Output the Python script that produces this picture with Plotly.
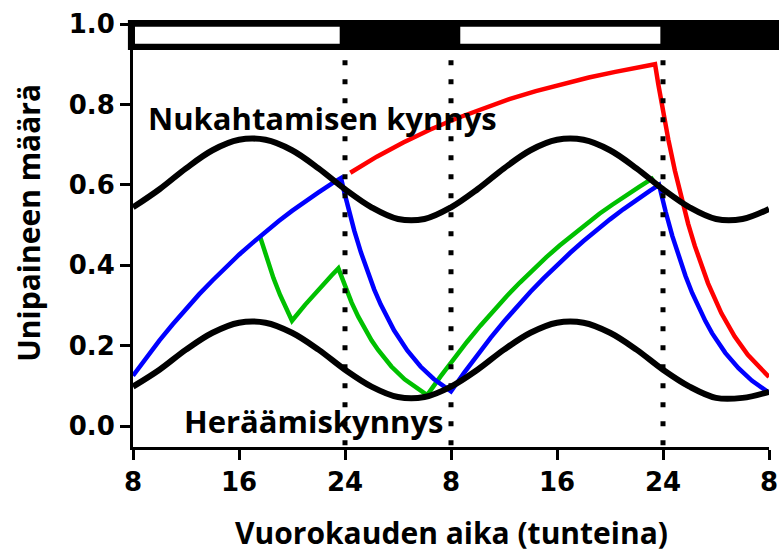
import plotly.graph_objects as go

# ---- data ----
hours_thr = [8, 10, 12, 14, 16, 18, 20, 22, 24, 26, 28, 30, 32, 34, 36, 38, 40, 42, 44, 46, 48, 50, 52, 54, 56]
sleep_threshold = [0.544, 0.589, 0.641, 0.686, 0.712, 0.712, 0.686, 0.641, 0.589, 0.544, 0.515, 0.515, 0.544,
                   0.589, 0.641, 0.686, 0.712, 0.712, 0.686, 0.641, 0.589, 0.544, 0.515, 0.515, 0.54]
wake_threshold = [0.098, 0.14, 0.19, 0.232, 0.257, 0.257, 0.232, 0.19, 0.14, 0.098, 0.072, 0.072, 0.098,
                  0.14, 0.19, 0.232, 0.257, 0.257, 0.232, 0.19, 0.14, 0.098, 0.07, 0.07, 0.085]

blue_h = [8, 9, 10, 11, 12, 13, 14, 15, 16, 17, 18, 19, 20, 21, 22, 23, 23.7,
          23.95, 24.2, 24.7, 25.2, 25.7, 26.2, 26.7, 27.2, 27.7, 28.7, 29.7, 30.7, 32,
          33, 34, 35, 36, 37, 38, 39, 40, 41, 42, 43, 44, 45, 46, 47, 47.7,
          47.95, 48.2, 48.7, 49.2, 49.7, 50.2, 50.7, 51.2, 51.7, 52.7, 53.7, 54.7, 56]
blue_v = [0.125, 0.170, 0.213, 0.253, 0.291, 0.328, 0.362, 0.395, 0.426, 0.455, 0.483, 0.510, 0.535, 0.559, 0.581, 0.603, 0.617,
          0.581, 0.548, 0.486, 0.432, 0.383, 0.340, 0.302, 0.268, 0.238, 0.188, 0.148, 0.117, 0.086,
          0.133, 0.177, 0.220, 0.260, 0.298, 0.334, 0.368, 0.400, 0.431, 0.460, 0.488, 0.514, 0.539, 0.563, 0.585, 0.600,
          0.565, 0.533, 0.473, 0.420, 0.373, 0.331, 0.294, 0.261, 0.231, 0.182, 0.144, 0.113, 0.083]

green_h = [17.6, 18.1, 18.6, 19.1, 19.6, 20.0, 21, 22, 23, 23.5,
           24, 24.5, 25, 25.5, 26, 26.5, 27, 27.5, 28.5, 29.5, 30.2,
           31.2, 32.2, 33.2, 34.2, 35.2, 36.2, 37.2, 38.2, 39.2, 40.2, 41.2, 42.2, 43.2, 44.2, 45.2, 46.2, 47.3]
green_v = [0.47, 0.416, 0.368, 0.326, 0.289, 0.262, 0.302, 0.340, 0.375, 0.392,
           0.347, 0.307, 0.272, 0.241, 0.213, 0.189, 0.167, 0.148, 0.116, 0.091, 0.077,
           0.123, 0.167, 0.209, 0.249, 0.287, 0.323, 0.357, 0.389, 0.420, 0.449, 0.476, 0.503, 0.528, 0.551, 0.574, 0.595, 0.618]

red_h = [24.4, 26.4, 28.4, 30.4, 32.4, 34.4, 36.4, 38.4, 40.4, 42.4, 44.4, 46.4, 47.4,
         47.65, 47.9, 48.4, 48.9, 49.4, 49.9, 50.4, 50.9, 51.4, 52.4, 53.4, 54.4, 56]
red_v = [0.63, 0.670, 0.705, 0.737, 0.765, 0.790, 0.813, 0.833, 0.851, 0.867, 0.881, 0.894, 0.900,
         0.849, 0.801, 0.713, 0.635, 0.565, 0.503, 0.448, 0.399, 0.355, 0.281, 0.223, 0.177, 0.122]

light_start = [8.15, 32.7]
light_end = [23.6, 47.8]
dotted_x = [24, 32, 48]

x_tickvals = [8, 16, 24, 32, 40, 48, 56]
x_ticktext = ["8", "16", "24", "8", "16", "24", "8"]
y_tickvals = [0.0, 0.2, 0.4, 0.6, 0.8, 1.0]

fig = go.Figure()
fig.add_trace(go.Scatter(x=green_h, y=green_v, mode="lines", line=dict(color="#00C000", width=4.5), hoverinfo="skip"))
fig.add_trace(go.Scatter(x=blue_h, y=blue_v, mode="lines", line=dict(color="#0000FF", width=4.5), hoverinfo="skip"))
fig.add_trace(go.Scatter(x=red_h, y=red_v, mode="lines", line=dict(color="#FF0000", width=4.5), hoverinfo="skip"))
fig.add_trace(go.Scatter(x=hours_thr, y=sleep_threshold, mode="lines", line=dict(color="black", width=6, shape="spline"), hoverinfo="skip"))
fig.add_trace(go.Scatter(x=hours_thr, y=wake_threshold, mode="lines", line=dict(color="black", width=6, shape="spline"), hoverinfo="skip"))

shapes = []
# light/dark bar
shapes.append(dict(type="rect", xref="paper", yref="paper", x0=-0.008, x1=1.03, y0=0.9385, y1=1.0095,
                   fillcolor="black", line=dict(width=0), layer="above"))
for s, e in zip(light_start, light_end):
    shapes.append(dict(type="rect", xref="x", yref="y", x0=s, x1=e, y0=0.951, y1=0.993,
                       fillcolor="white", line=dict(width=0), layer="above"))
for xv in dotted_x:
    shapes.append(dict(type="line", xref="x", yref="y", x0=xv, x1=xv, y0=0.91, y1=-0.05,
                       line=dict(color="black", width=5, dash="5px,14px"), layer="above"))

title_font = dict(family="Open Sans", size=31, color="black", weight="bold")
annotations = [
    dict(text="Nukahtamisen kynnys", x=9.0, y=0.765, xref="x", yref="y", xanchor="left", yanchor="middle",
         showarrow=False, font=title_font),
    dict(text="Heräämiskynnys", x=11.7, y=0.013, xref="x", yref="y", xanchor="left", yanchor="middle",
         showarrow=False, font=title_font),
    dict(text="Vuorokauden aika (tunteina)", x=0.5, y=-0.203, xref="paper", yref="paper",
         xanchor="center", yanchor="middle", showarrow=False,
         font=dict(family="Open Sans", size=30, color="black", weight="bold")),
    dict(text="Unipaineen määrä", x=-0.1635, y=0.53, xref="paper", yref="paper", textangle=-90,
         xanchor="center", yanchor="middle", showarrow=False,
         font=dict(family="Open Sans", size=30, color="black", weight="bold")),
]

tick_font = dict(family="DejaVu Sans", size=26, color="black", weight="bold")
fig.update_layout(
    width=779, height=555,
    margin=dict(l=133, r=10, t=24, b=108, autoexpand=False),
    paper_bgcolor="white", plot_bgcolor="white",
    showlegend=False,
    shapes=shapes,
    annotations=annotations,
    xaxis=dict(range=[8, 56], tickvals=x_tickvals, ticktext=x_ticktext, showgrid=False, zeroline=False,
               showline=True, linecolor="black", linewidth=3, ticks="outside", ticklen=10, tickwidth=3,
               tickcolor="black", tickfont=tick_font, automargin=False),
    yaxis=dict(range=[-0.0522, 1.0], tickvals=y_tickvals, tickformat=".1f", showgrid=False, zeroline=False,
               showline=True, linecolor="black", linewidth=3, ticks="outside", ticklen=10, tickwidth=3,
               tickcolor="black", tickfont=tick_font, automargin=False),
)

fig.write_html("out.html")
